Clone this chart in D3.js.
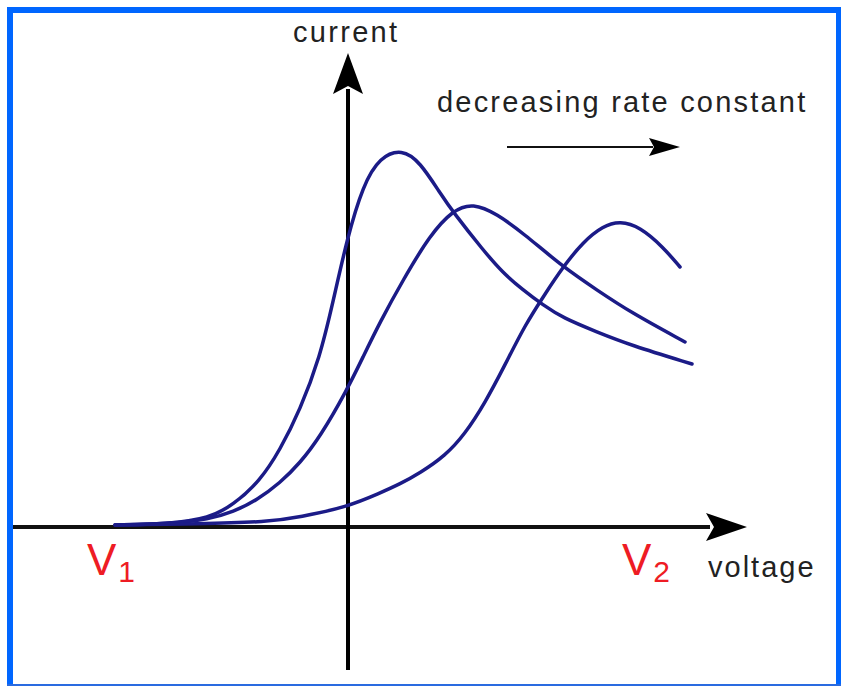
<!DOCTYPE html>
<html><head><meta charset="utf-8">
<script src="https://cdn.jsdelivr.net/npm/d3@7"></script>
<style>html,body{margin:0;padding:0;background:#fff;} svg{display:block}</style>
</head><body>
<script>
// voltage (arbitrary units, 0 at the current axis) and current values for each curve
const seriesNames = ["fast", "medium", "slow"];
const fastV = [-2.33,-1.81,-1.38,-1.15,-0.88,-0.68,-0.48,-0.28,-0.15,-0.01,0.15,0.32,0.54,0.72,0.92,1.05,1.35,1.55,1.75,1.95,2.15,2.49,2.82,3.44];
const fastI = [0.02,0.03,0.09,0.22,0.46,0.77,1.17,1.70,2.25,2.88,3.42,3.70,3.78,3.65,3.34,3.15,2.77,2.54,2.37,2.22,2.09,1.95,1.82,1.63];
const mediumV = [-2.33,-1.81,-1.38,-1.15,-0.91,-0.68,-0.48,-0.28,-0.01,0.15,0.32,0.55,0.82,1.05,1.25,1.49,1.75,2.15,2.49,2.82,3.37];
const mediumI = [0.02,0.03,0.08,0.15,0.27,0.44,0.64,0.90,1.37,1.70,2.05,2.47,2.92,3.17,3.24,3.13,2.94,2.60,2.37,2.15,1.85];
const slowV = [-2.33,-1.48,-0.81,-0.48,-0.01,0.32,0.52,0.72,0.97,1.17,1.37,1.57,1.77,1.97,2.15,2.35,2.55,2.72,2.92,3.15,3.32];
const slowI = [0.02,0.03,0.05,0.10,0.20,0.34,0.43,0.54,0.71,0.93,1.24,1.62,2.02,2.33,2.60,2.85,3.01,3.06,3.00,2.80,2.60];
const axisLabels = ["voltage", "current"];
const endLabels = ["V", "V"];
const endSubs = ["1", "2"];
const annotation = "decreasing rate constant";

const W = 841, H = 686;
const svg = d3.select("body").append("svg").attr("width", W).attr("height", H);

const x = d3.scaleLinear().domain([0, 1]).range([348, 448]);
const y = d3.scaleLinear().domain([0, 1]).range([527, 427]);

// frame
const blue = "#0066ff";
svg.append("rect").attr("x", 7).attr("y", 7).attr("width", 6).attr("height", 679).attr("fill", blue);
svg.append("rect").attr("x", 7).attr("y", 7).attr("width", 834).attr("height", 6).attr("fill", blue);
svg.append("rect").attr("x", 836).attr("y", 7).attr("width", 5).attr("height", 679).attr("fill", blue);
svg.append("rect").attr("x", 7).attr("y", 684).attr("width", 834).attr("height", 2).attr("fill", "#2a6be0");

// axes
const axisCol = "#000";
svg.append("line").attr("x1", x(-3.35)).attr("x2", x(3.62)).attr("y1", y(0)).attr("y2", y(0))
  .attr("stroke", "#111").attr("stroke-width", 4);
svg.append("path")
  .attr("d", `M${x(3.99)},${y(0)} L${x(3.58)},${y(0.14)} L${x(3.66)},${y(0)} L${x(3.58)},${y(-0.14)} Z`)
  .attr("fill", axisCol);
svg.append("line").attr("x1", x(0)).attr("x2", x(0)).attr("y1", y(-1.43)).attr("y2", y(4.38))
  .attr("stroke", axisCol).attr("stroke-width", 4);
svg.append("path")
  .attr("d", `M${x(0)},${y(4.74)} L${x(0.15)},${y(4.33)} L${x(0)},${y(4.41)} L${x(-0.15)},${y(4.33)} Z`)
  .attr("fill", axisCol);

// curves
const series = [
  {name: seriesNames[0], v: fastV, i: fastI},
  {name: seriesNames[1], v: mediumV, i: mediumI},
  {name: seriesNames[2], v: slowV, i: slowI}
];
const line = d3.line().x(d => x(d[0])).y(d => y(d[1])).curve(d3.curveBasis);
svg.selectAll("path.curve").data(series).enter().append("path")
  .attr("class", "curve")
  .attr("d", s => line(s.v.map((v, k) => [v, s.i[k]])))
  .attr("fill", "none").attr("stroke", "#1b1b87").attr("stroke-width", 3.5)
  .attr("stroke-linecap", "round").attr("stroke-linejoin", "round");

// labels
const font = "'Liberation Sans', Arial, Helvetica, sans-serif";
const txtCol = "#222";
svg.append("text").attr("x", 293).attr("y", 42)
  .attr("font-family", font).attr("font-size", 29).attr("letter-spacing", 2.3).attr("fill", txtCol)
  .text(axisLabels[1]);
svg.append("text").attr("x", 708).attr("y", 577)
  .attr("font-family", font).attr("font-size", 29).attr("letter-spacing", 2).attr("fill", txtCol)
  .text(axisLabels[0]);
svg.append("text").attr("x", 437).attr("y", 112)
  .attr("font-family", font).attr("font-size", 29).attr("letter-spacing", 2.2).attr("fill", txtCol)
  .text(annotation);

// annotation arrow
svg.append("line").attr("x1", x(1.59)).attr("x2", x(3.05)).attr("y1", 147).attr("y2", 147)
  .attr("stroke", "#111").attr("stroke-width", 2);
svg.append("path")
  .attr("d", `M${x(3.32)},147 L${x(3.01)},138 L${x(3.06)},147 L${x(3.01)},156 Z`)
  .attr("fill", "#000");

// V1, V2
const red = "#ee1c24";
const vPos = [x(-2.61), x(2.74)];
endLabels.forEach((t, k) => {
  const g = svg.append("text").attr("x", vPos[k]).attr("y", 575)
    .attr("font-family", font).attr("fill", red);
  g.append("tspan").attr("font-size", 44).text(t);
  g.append("tspan").attr("font-size", 30).attr("dx", 2).attr("dy", 7).text(endSubs[k]);
});
</script>
</body></html>
